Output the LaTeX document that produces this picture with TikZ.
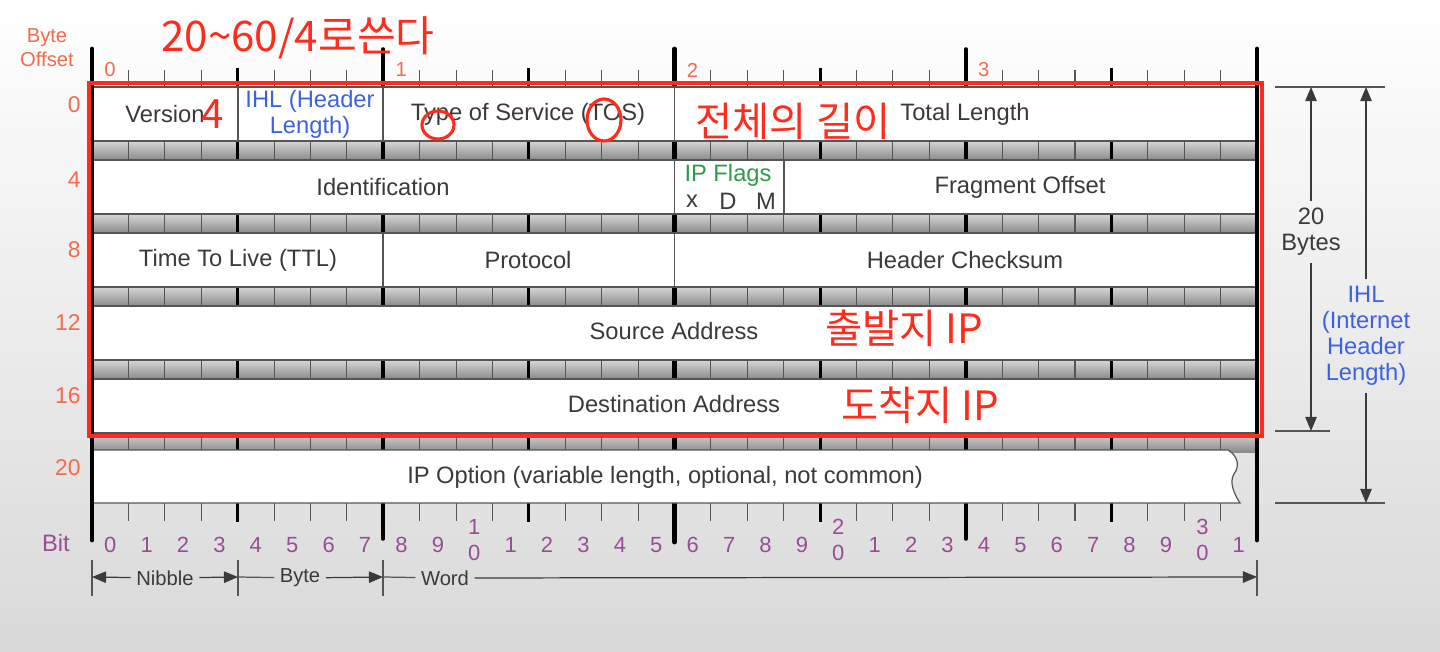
\documentclass[tikz,border=0pt]{standalone}
\usepackage{fontspec}
\setmainfont{Liberation Sans}
\newfontfamily\krfont{Noto Sans CJK KR}
\usetikzlibrary{arrows.meta,positioning}
\definecolor{ipText}{HTML}{3A3A3A}
\definecolor{ipLine}{HTML}{555555}
\definecolor{ipOrange}{HTML}{F26B4C}
\definecolor{ipPurple}{HTML}{9A4D97}
\definecolor{ipBlue}{HTML}{3D62E0}
\definecolor{ipGreen}{HTML}{2F9A4A}
\definecolor{ipRed}{HTML}{FF2B1C}

\begin{document}
\begin{tikzpicture}[x=0.02cm, y=-0.02cm,
  lbl/.style={text=ipText, font=\fontsize{13.5}{14.7}\selectfont, align=center, inner sep=1pt},
  offs/.style={text=ipOrange, font=\fontsize{13}{14.5}\selectfont, align=center, inner sep=0pt},
  bitno/.style={text=ipPurple, font=\fontsize{12.5}{14.7}\selectfont, align=center, inner sep=0pt},
  note/.style={text=ipRed, font=\krfont\fontsize{23}{26}\selectfont, inner sep=0pt},
  rowbox/.style={draw=ipLine, fill=white, line width=0.7pt},
  band/.style={top color=black!16, bottom color=black!46},
  bittick/.style={draw=ipLine, line width=0.6pt},
  nibtick/.style={draw=black, line width=1.6pt},
  bytetick/.style={draw=black, line width=2pt, line cap=round},
  edgeline/.style={draw=black, line width=2.8pt, line cap=round},
  guide/.style={draw=ipLine, line width=0.8pt},
  dim/.style={draw=ipText, line width=0.7pt, -{Triangle[length=8pt,width=6.5pt]}},
  redline/.style={draw=ipRed, line width=2.6pt}
]
  \useasboundingbox (0,0) rectangle (1440,652);
  \shade[top color=white, middle color=white, bottom color=black!15] (0,0) rectangle (1440,652);

  % grey bands between the rows
  \foreach \rw in {0,...,4}
    \shade[band] (92,141+73*\rw) rectangle (1257,160+73*\rw);

  % bit ruler, running behind the rows
  \foreach \i in {1,...,31}
    \draw[bittick] (92+36.406*\i,70) -- (92+36.406*\i,521);
  \foreach \i in {4,12,20,28}
    \draw[nibtick] (92+36.406*\i,68) -- (92+36.406*\i,522);
  \foreach \i in {8,24}
    \draw[bytetick] (92+36.406*\i,49) -- (92+36.406*\i,539);
  \draw[edgeline] (674.5,49) -- (674.5,542);

  % header rows
  \foreach \rw in {0,...,4}
    \draw[rowbox] (92,87+73*\rw) rectangle (1257,141+73*\rw);
  \draw[rowbox] (92,450) -- (1228,450) .. controls (1238,456) and (1240,466) .. (1234,474)
    .. controls (1229,482) and (1234,494) .. (1240,503) -- (92,503) -- cycle;

  % field borders
  \draw[guide] (238,87) -- (238,141) (383,87) -- (383,141) (674.5,87) -- (674.5,141);
  \draw[guide] (674.5,160) -- (674.5,213) (784,160) -- (784,213);
  \draw[guide] (383,232) -- (383,286) (674.5,232) -- (674.5,286);

  \draw[edgeline] (92,49) -- (92,540);
  \draw[edgeline] (1257,49) -- (1257,540);

  % byte numbers on top
  \foreach \k in {0,...,3}
    \node[offs, font=\fontsize{11.5}{13}\selectfont] (byte\k) at (92+291.25*\k+18,70) {\k};

  % byte offsets on the left
  \node[offs, font=\fontsize{11.5}{13.5}\selectfont] (offtitle) at (47,48) {Byte\\Offset};
  \node[offs, anchor=east] (off0) at (81,105) {0};
  \node[offs, anchor=east] (off4) at (81,180) {4};
  \node[offs, anchor=east] (off8) at (81,250) {8};
  \node[offs, anchor=east] (off12) at (81,323) {12};
  \node[offs, anchor=east] (off16) at (81,396) {16};
  \node[offs, anchor=east] (off20) at (81,468) {20};

  % fields
  \node[lbl] (version) at (165,114) {Version};
  \node[lbl, text=ipBlue] (ihl) at (310,114) {IHL (Header\\Length)};
  \node[lbl] (tos) at (528,114) {Type of Service (TOS)};
  \node[lbl] (totlen) at (965,114) {Total Length};
  \node[lbl] (ident) at (383,187) {Identification};
  \node[lbl, text=ipGreen] (flags) at (728,175) {IP Flags};
  \node[lbl] (flagx) at (692,201) {x};
  \node[lbl] (flagd) at (728,201) {D};
  \node[lbl] (flagm) at (766,201) {M};
  \node[lbl] (fragoff) at (1020,187) {Fragment Offset};
  \node[lbl] (ttl) at (238,260) {Time To Live (TTL)};
  \node[lbl] (proto) at (528,260) {Protocol};
  \node[lbl] (cksum) at (965,260) {Header Checksum};
  \node[lbl] (srcaddr) at (674,331) {Source Address};
  \node[lbl] (dstaddr) at (674,404) {Destination Address};
  \node[lbl] (ipopt) at (665,477) {IP Option (variable length, optional, not common)};

  % bit numbers
  \node[bitno, font=\fontsize{13.5}{15}\selectfont] (bittitle) at (56,543) {Bit};
  \foreach \i in {0,...,31} {
    \pgfmathtruncatemacro\u{mod(\i,10)}
    \pgfmathtruncatemacro\t{div(\i,10)}
    \ifnum\u=0 \ifnum\t>0
      \node[bitno] (bit\i) at (92+36.406*\i+18.2,540) {\t\\0};
    \else
      \node[bitno] (bit\i) at (92+36.406*\i+18.2,545) {\u};
    \fi \else
      \node[bitno] (bit\i) at (92+36.406*\i+18.2,545) {\u};
    \fi
  }

  % nibble / byte / word
  \foreach \x in {92,238,383,1257}
    \draw[guide] (\x,560) -- (\x,596);
  \coordinate (m0) at (92,577);
  \coordinate (m4) at (238,577);
  \coordinate (m8) at (383,577);
  \coordinate (m32) at (1257,577);
  \node[lbl, font=\fontsize{11.5}{13}\selectfont, inner sep=3pt] (nibble) at (165,578) {Nibble};
  \node[lbl, font=\fontsize{11.5}{13}\selectfont, inner sep=3pt] (bytew) at (300,578) {Byte};
  \node[lbl, font=\fontsize{11.5}{13}\selectfont, inner sep=3pt] (word) at (445,578) {Word};
  \draw[dim] (nibble) -- (m0);
  \draw[dim] (nibble) -- (m4);
  \draw[guide, line width=0.7pt] (bytew) -- (m4);
  \draw[dim] (bytew) -- (m8);
  \draw[guide, line width=0.7pt] (word) -- (m8);
  \draw[dim] (word) -- (m32);

  % header length on the right
  \draw[guide] (1275,87) -- (1385,87);
  \draw[guide] (1275,431) -- (1330,431);
  \draw[guide] (1275,503) -- (1385,503);
  \coordinate (b20top) at (1311,87);
  \coordinate (b20bot) at (1311,431);
  \coordinate (ihltop) at (1366,87);
  \coordinate (ihlbot) at (1366,503);
  \node[lbl, inner sep=4pt] (bytes20) at (1311,232) {20\\Bytes};
  \node[lbl, text=ipBlue, inner sep=4pt] (ihlfull) at (1366,336) {IHL\\(Internet\\Header\\Length)};
  \draw[dim] (bytes20) -- (b20top);
  \draw[dim] (bytes20) -- (b20bot);
  \draw[dim] (ihlfull) -- (ihltop);
  \draw[dim] (ihlfull) -- (ihlbot);

  % handwritten notes
  \draw[redline] (89,83) rectangle (1262,436);
  \draw[draw=ipRed, line width=1.8pt] (438,125) ellipse [x radius=16, y radius=14];
  \draw[draw=ipRed, line width=1.8pt] (604,120) ellipse [x radius=17, y radius=21];
  \node[note, font=\krfont\fontsize{24}{26}\selectfont] (notetitle) at (298,38) {20\textasciitilde60/4로쓴다};
  \node[note] (notefour) at (213,114) {4};
  \node[note] (notelen) at (793,121) {전체의 길이};
  \node[note] (notesrc) at (904,328) {출발지 IP};
  \node[note] (notedst) at (920,405) {도착지 IP};
\end{tikzpicture}
\end{document}
